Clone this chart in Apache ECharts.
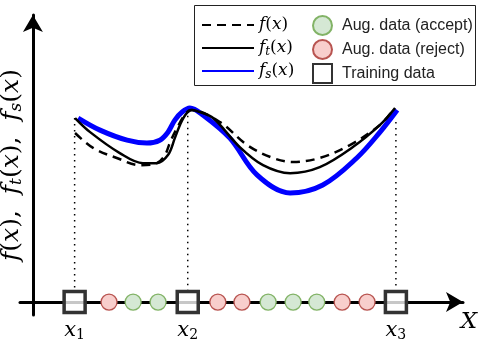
<!DOCTYPE html>
<html>
<head>
<meta charset="utf-8">
<script src="https://cdn.jsdelivr.net/npm/echarts@6/dist/echarts.min.js"></script>
<style>
  html, body { margin: 0; padding: 0; background: #fff; }
  #chart { width: 504px; height: 343px; }
</style>
</head>
<body>
<div id="chart"></div>
<script>
  // f(x) (dashed)
  const fX = [0.98, 1.40, 1.95, 2.49, 2.88, 3.07, 3.19, 3.35, 3.53, 3.67, 4.35, 4.98, 5.58, 6.05, 6.67, 7.37, 8.07, 8.37]
  const fY = [5.89, 5.37, 5.02, 4.77, 4.84, 5.12, 5.57, 6.06, 6.52, 6.69, 6.27, 5.47, 5.02, 4.88, 5.02, 5.47, 6.17, 6.69]
  // f_t(x) (solid black)
  const ftX = [0.98, 1.33, 2.02, 2.56, 2.88, 3.14, 3.30, 3.42, 3.56, 3.70, 3.88, 4.19, 4.81, 5.35, 5.98, 6.67, 7.44, 8.07, 8.42]
  const ftY = [6.41, 5.92, 5.19, 4.84, 4.84, 5.12, 5.71, 6.17, 6.55, 6.69, 6.62, 6.41, 5.40, 4.77, 4.49, 4.70, 5.40, 6.17, 6.76]
  // f_s(x) (blue)
  const fsX = [1.05, 1.56, 2.19, 2.65, 2.95, 3.14, 3.30, 3.47, 3.65, 3.95, 4.58, 5.21, 5.98, 6.74, 7.53, 8.07, 8.47]
  const fsY = [6.41, 5.99, 5.64, 5.54, 5.64, 5.92, 6.34, 6.62, 6.76, 6.52, 5.71, 4.43, 3.80, 4.08, 5.02, 5.92, 6.69]

  const trainX = [0.97, 3.60, 8.44]
  const guideTop = [6.41, 6.70, 6.27]
  const guideBottom = 0.40
  const acceptX = [2.33, 2.91, 5.47, 6.05, 6.60]
  const rejectX = [1.77, 4.30, 4.86, 7.19, 7.77]

  const serif = 'DejaVu Serif'
  function mathRich(size) {
    const s = Math.round(size * 0.68)
    return {
      it: {fontFamily: serif, fontStyle: 'italic', fontSize: size, lineHeight: size + 3, color: '#000'},
      rm: {fontFamily: serif, fontSize: size, lineHeight: size + 3, color: '#000'},
      sub: {fontFamily: serif, fontStyle: 'italic', fontSize: s, lineHeight: s, verticalAlign: 'bottom', color: '#000'},
      sr: {fontFamily: serif, fontSize: s, lineHeight: s, verticalAlign: 'bottom', color: '#000'}
    }
  }
  function fx(sub) {
    return '{it|f}' + (sub ? '{sub|' + sub + '}' : '') + '{rm|(}{it|x}{rm|)}'
  }
  const legendMath = {'f(x)': fx(''), 'f_t(x)': fx('t'), 'f_s(x)': fx('s')}

  const zip = (xs, ys) => xs.map((x, i) => [x, ys[i]])

  const chart = echarts.init(document.getElementById('chart'))

  const guides = trainX.map((x, i) => ({
    type: 'line',
    data: [[x, guideTop[i]], [x, guideBottom]],
    symbol: 'none',
    silent: true,
    z: 1,
    lineStyle: {color: '#000', width: 1.5, type: [1.5, 4.5]}
  }))

  chart.setOption({
    animation: false,
    backgroundColor: '#fff',
    grid: {left: 20, right: 41, top: 15, bottom: 28, outerBoundsMode: 'none'},
    xAxis: {
      type: 'value', min: -0.30, max: 10,
      axisLine: {onZero: true, symbol: ['none', 'arrow'], symbolSize: [15, 17], lineStyle: {color: '#000', width: 3}},
      axisTick: {show: false}, axisLabel: {show: false}, splitLine: {show: false},
      name: 'X', nameLocation: 'end', nameGap: 6,
      nameTextStyle: {fontFamily: serif, fontStyle: 'italic', fontSize: 23, color: '#000', align: 'center', verticalAlign: 'top', lineHeight: 40}
    },
    yAxis: {
      type: 'value', min: -0.45, max: 10,
      axisLine: {onZero: true, symbol: ['none', 'arrow'], symbolSize: [15, 17], lineStyle: {color: '#000', width: 3}},
      axisTick: {show: false}, axisLabel: {show: false}, splitLine: {show: false}
    },
    graphic: [{
      type: 'rect', z: 0,
      shape: {x: 194.5, y: 5.5, width: 281, height: 80},
      style: {fill: '#fff', stroke: '#222', lineWidth: 1}
    }, {
      type: 'text', z: 5,
      x: 11, y: 165, rotation: Math.PI / 2,
      style: {
        text: fx('') + '{rm|,  }' + fx('t') + '{rm|,  }' + fx('s'),
        rich: mathRich(25), align: 'center', verticalAlign: 'middle'
      }
    }],
    legend: [{
      data: ['f(x)', 'f_t(x)', 'f_s(x)'],
      orient: 'vertical', left: 201, top: 15, padding: 0,
      itemWidth: 52, itemHeight: 14, itemGap: 3,
      itemStyle: {color: 'rgba(0,0,0,0)', borderWidth: 0, opacity: 0},
      formatter: name => legendMath[name],
      textStyle: {lineHeight: 20, rich: mathRich(17)}
    }, {
      data: ['Aug. data (accept)', 'Aug. data (reject)', 'Training data'],
      orient: 'vertical', left: 312, top: 15, padding: 0,
      itemWidth: 19, itemHeight: 19, itemGap: 3,
      textStyle: {fontFamily: 'Liberation Sans', fontSize: 16, color: '#222', lineHeight: 20, padding: [0, 0, 0, 5]}
    }],
    series: [
      ...guides,
      {
        name: 'f(x)', type: 'line', data: zip(fX, fY), smooth: 0.35, symbol: 'none', z: 3,
        lineStyle: {color: '#000', width: 2.5, type: [9, 6]}, itemStyle: {color: '#000'}
      },
      {
        name: 'f_t(x)', type: 'line', data: zip(ftX, ftY), smooth: 0.35, symbol: 'none', z: 3,
        lineStyle: {color: '#000', width: 2.5}, itemStyle: {color: '#000'}
      },
      {
        name: 'f_s(x)', type: 'line', data: zip(fsX, fsY), smooth: 0.35, symbol: 'none', z: 2,
        lineStyle: {color: '#0000ff', width: 5}, itemStyle: {color: '#0000ff'}
      },
      {
        name: 'Aug. data (accept)', type: 'scatter', data: acceptX.map(x => [x, 0]),
        symbol: 'circle', symbolSize: 16, z: 4,
        itemStyle: {color: '#d5e8d4', borderColor: '#82b366', borderWidth: 1.3, opacity: 1}
      },
      {
        name: 'Aug. data (reject)', type: 'scatter', data: rejectX.map(x => [x, 0]),
        symbol: 'circle', symbolSize: 16, z: 4,
        itemStyle: {color: '#f8cecc', borderColor: '#b85450', borderWidth: 1.3, opacity: 1}
      },
      {
        name: 'Training data', type: 'scatter', data: trainX.map(x => [x, 0]),
        symbol: 'rect', symbolSize: 21, z: 4,
        itemStyle: {color: 'rgba(255,255,255,0.78)', borderColor: '#333', borderWidth: 3.5, opacity: 1},
        label: {
          show: true, position: 'bottom', distance: 4,
          formatter: p => '{it|x}{sr|' + (p.dataIndex + 1) + '}',
          rich: mathRich(21)
        }
      }
    ]
  })
</script>
</body>
</html>
